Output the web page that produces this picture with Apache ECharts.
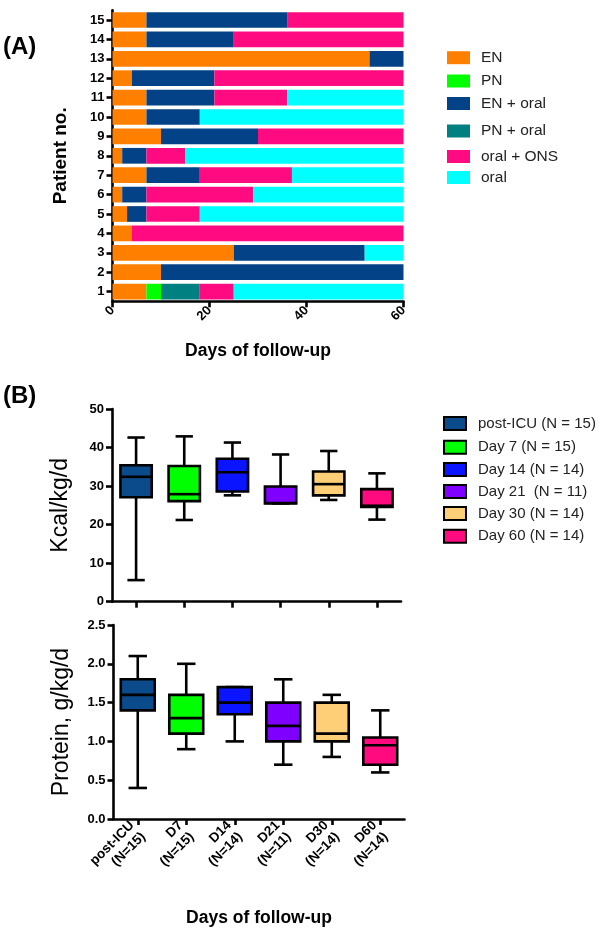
<!DOCTYPE html>
<html>
<head>
<meta charset="utf-8">
<script src="https://cdn.jsdelivr.net/npm/echarts@6/dist/echarts.min.js"></script>
<style>
html,body{margin:0;padding:0;background:#fff;}
#c{width:600px;height:933px;}
</style>
</head>
<body>
<div id="c"></div>
<script>
// ---------- Panel A data ----------
const patients = ['1','2','3','4','5','6','7','8','9','10','11','12','13','14','15'];
const regimenNames = ['EN','PN','EN + oral','PN + oral','oral + ONS','oral'];
const enDays      = [7,10,25,4,3,2,7,2,10,7,7,4,53,7,7];
const pnDays      = [3,0,0,0,0,0,0,0,0,0,0,0,0,0,0];
const enOralDays  = [0,50,27,0,4,5,11,5,20,11,14,17,7,18,29];
const pnOralDays  = [8,0,0,0,0,0,0,0,0,0,0,0,0,0,0];
const oralOnsDays = [7,0,0,56,11,22,19,8,30,0,15,39,0,35,24];
const oralDays    = [35,0,8,0,42,31,23,45,0,42,24,0,0,0,0];
const daysTicks   = [0,20,40,60];

// ---------- Panel B data ----------
const boxCats  = ['post-ICU\n(N=15)','D7\n(N=15)','D14\n(N=14)','D21\n(N=11)','D30\n(N=14)','D60\n(N=14)'];
const boxNames = ['post-ICU (N = 15)','Day 7 (N = 15)','Day 14 (N = 14)','Day 21  (N = 11)','Day 30 (N = 14)','Day 60 (N = 14)'];
const kcalMin = [5.6,21.2,27.6,25.5,26.4,21.3];
const kcalQ1  = [27.1,26.1,28.6,25.5,27.6,24.6];
const kcalMed = [32.4,27.9,33.6,25.6,30.5,24.9];
const kcalQ3  = [35.4,35.2,37.1,29.9,33.8,29.2];
const kcalMax = [42.6,42.9,41.3,38.2,39.1,33.3];
const protMin = [0.4,0.9,1.0,0.7,0.8,0.6];
const protQ1  = [1.4,1.1,1.35,1.0,1.0,0.7];
const protMed = [1.6,1.3,1.5,1.2,1.1,0.95];
const protQ3  = [1.8,1.6,1.7,1.5,1.5,1.05];
const protMax = [2.1,2.0,1.7,1.8,1.6,1.4];

const regimenColors = ['#ff7f00','#00ff00','#034286','#008080','#ff0a80','#00ffff'];
const boxColors = ['#0b4a8b','#00ff00','#0a14ff','#8000ff','#ffcf78','#ff0a7f'];
const FONT = "'Liberation Sans', Arial, Helvetica, sans-serif";

const chart = echarts.init(document.getElementById('c'), null, {renderer:'canvas'});

const regimenData = [enDays,pnDays,enOralDays,pnOralDays,oralOnsDays,oralDays];
const barSeries = regimenNames.map((n,i)=>({
  name:n, type:'bar', stack:'days', xAxisIndex:0, yAxisIndex:0,
  barCategoryGap:'19%', itemStyle:{color:regimenColors[i]},
  data: regimenData[i]
}));

function boxRender(frac, capFrac){
  return function(params, api){
    const x = api.value(0);
    const pMin = api.coord([x, api.value(1)]);
    const pQ1  = api.coord([x, api.value(2)]);
    const pMed = api.coord([x, api.value(3)]);
    const pQ3  = api.coord([x, api.value(4)]);
    const pMax = api.coord([x, api.value(5)]);
    const band = api.size([1,0])[0];
    const hw = band*frac/2, cw = band*capFrac/2;
    const cx = pMed[0];
    const ls = {stroke:'#000', lineWidth:2.6, fill:null};
    return {type:'group', children:[
      {type:'line', shape:{x1:cx,y1:pQ3[1],x2:cx,y2:pMax[1]}, style:ls},
      {type:'line', shape:{x1:cx-cw,y1:pMax[1],x2:cx+cw,y2:pMax[1]}, style:ls},
      {type:'line', shape:{x1:cx,y1:pQ1[1],x2:cx,y2:pMin[1]}, style:ls},
      {type:'line', shape:{x1:cx-cw,y1:pMin[1],x2:cx+cw,y2:pMin[1]}, style:ls},
      {type:'rect', shape:{x:cx-hw,y:pQ3[1],width:2*hw,height:pQ1[1]-pQ3[1]},
        style:{fill:api.visual('color'), stroke:'#000', lineWidth:2.6}},
      {type:'line', shape:{x1:cx-hw,y1:pMed[1],x2:cx+hw,y2:pMed[1]}, style:ls}
    ]};
  };
}

const boxSeries = [];
boxNames.forEach((n,i)=>{
  boxSeries.push({
    name:n, type:'custom', xAxisIndex:1, yAxisIndex:1,
    itemStyle:{color:boxColors[i]},
    renderItem: boxRender(0.65, 0.36),
    encode:{x:0, y:[1,2,3,4,5]},
    data:[[i, kcalMin[i], kcalQ1[i], kcalMed[i], kcalQ3[i], kcalMax[i]]]
  });
  boxSeries.push({
    name:n, type:'custom', xAxisIndex:2, yAxisIndex:2,
    itemStyle:{color:boxColors[i]},
    renderItem: boxRender(0.70, 0.38),
    encode:{x:0, y:[1,2,3,4,5]},
    data:[[i, protMin[i], protQ1[i], protMed[i], protQ3[i], protMax[i]]]
  });
});

const axLine = {show:true, lineStyle:{color:'#000', width:2.6}};
const axTick = {show:true, inside:false, length:6, lineStyle:{color:'#000', width:2.6}};
const boldLab = {color:'#000', fontFamily:FONT, fontWeight:'bold', fontSize:13};

// legends
const legA_centers = [56.7,80,102.5,130,155.5,176.5];
const legB_centers = [423,446.7,469,491,513,535.7];
const legends = [];
regimenNames.forEach((n,i)=>{
  legends.push({
    data:[n], left:447, top:legA_centers[i]-7, orient:'vertical', padding:0,
    itemWidth:23, itemHeight:13, icon:'rect', selectedMode:false,
    textStyle:{fontFamily:FONT, fontSize:15.5, color:'#222', padding:[0,0,0,6], lineHeight:14}
  });
});
boxNames.forEach((n,i)=>{
  legends.push({
    data:[n], left:443, top:legB_centers[i]-7, orient:'vertical', padding:0,
    itemWidth:22, itemHeight:13, icon:'rect', selectedMode:false,
    itemStyle:{borderColor:'#000', borderWidth:2},
    textStyle:{fontFamily:FONT, fontSize:15, color:'#222', padding:[0,0,0,7], lineHeight:14}
  });
});

const option = {
  animation:false,
  backgroundColor:'#fff',
  legend: legends,
  grid:[
    {left:112.5, top:10.3, width:291, height:291},
    {left:112, top:409, width:289, height:192.7},
    {left:113.5, top:625, width:291, height:194}
  ],
  xAxis:[
    {type:'value', gridIndex:0, min:0, max:60, interval:20,
     axisLine:axLine, axisTick:axTick, splitLine:{show:false},
     axisLabel:Object.assign({rotate:45, margin:7}, boldLab),
     name:'Days of follow-up', nameLocation:'middle', nameGap:41,
     nameTextStyle:{fontFamily:FONT, fontWeight:'bold', fontSize:17.5, color:'#000'}},
    {type:'category', gridIndex:1, data:boxCats,
     axisLine:axLine, axisTick:Object.assign({alignWithLabel:true, interval:0}, axTick),
     axisLabel:{show:false, interval:0}},
    {type:'category', gridIndex:2, data:boxCats,
     axisLine:axLine, axisTick:Object.assign({alignWithLabel:true, interval:0}, axTick),
     axisLabel:Object.assign({rotate:45, margin:10, interval:0}, boldLab, {fontSize:13.5, lineHeight:16}),
     name:'Days of follow-up', nameLocation:'middle', nameGap:90,
     nameTextStyle:{fontFamily:FONT, fontWeight:'bold', fontSize:17.5, color:'#000'}}
  ],
  yAxis:[
    {type:'category', gridIndex:0, data:patients,
     axisLine:axLine, axisTick:Object.assign({alignWithLabel:true}, axTick),
     axisLabel:Object.assign({margin:8, interval:0}, boldLab),
     name:'Patient no.', nameLocation:'middle', nameRotate:90, nameGap:42,
     nameTextStyle:{fontFamily:FONT, fontWeight:'bold', fontSize:19, color:'#000'}},
    {type:'value', gridIndex:1, min:0, max:50, interval:10,
     axisLine:axLine, axisTick:axTick, splitLine:{show:false},
     axisLabel:Object.assign({margin:8}, boldLab),
     name:'Kcal/kg/d', nameLocation:'middle', nameRotate:90, nameGap:40,
     nameTextStyle:{fontFamily:FONT, fontSize:23, color:'#000'}},
    {type:'value', gridIndex:2, min:0, max:2.5, interval:0.5,
     axisLine:axLine, axisTick:axTick, splitLine:{show:false},
     axisLabel:Object.assign({margin:8, formatter:v=>v.toFixed(1)}, boldLab),
     name:'Protein, g/kg/d', nameLocation:'middle', nameRotate:90, nameGap:40,
     nameTextStyle:{fontFamily:FONT, fontSize:23, color:'#000'}}
  ],
  graphic:[
    {type:'text', left:3, top:35, style:{text:'(A)', fontFamily:FONT, fontWeight:'bold', fontSize:24, fill:'#000'}},
    {type:'text', left:3, top:384, style:{text:'(B)', fontFamily:FONT, fontWeight:'bold', fontSize:24, fill:'#000'}}
  ],
  series: barSeries.concat(boxSeries)
};
chart.setOption(option);
</script>
</body>
</html>
